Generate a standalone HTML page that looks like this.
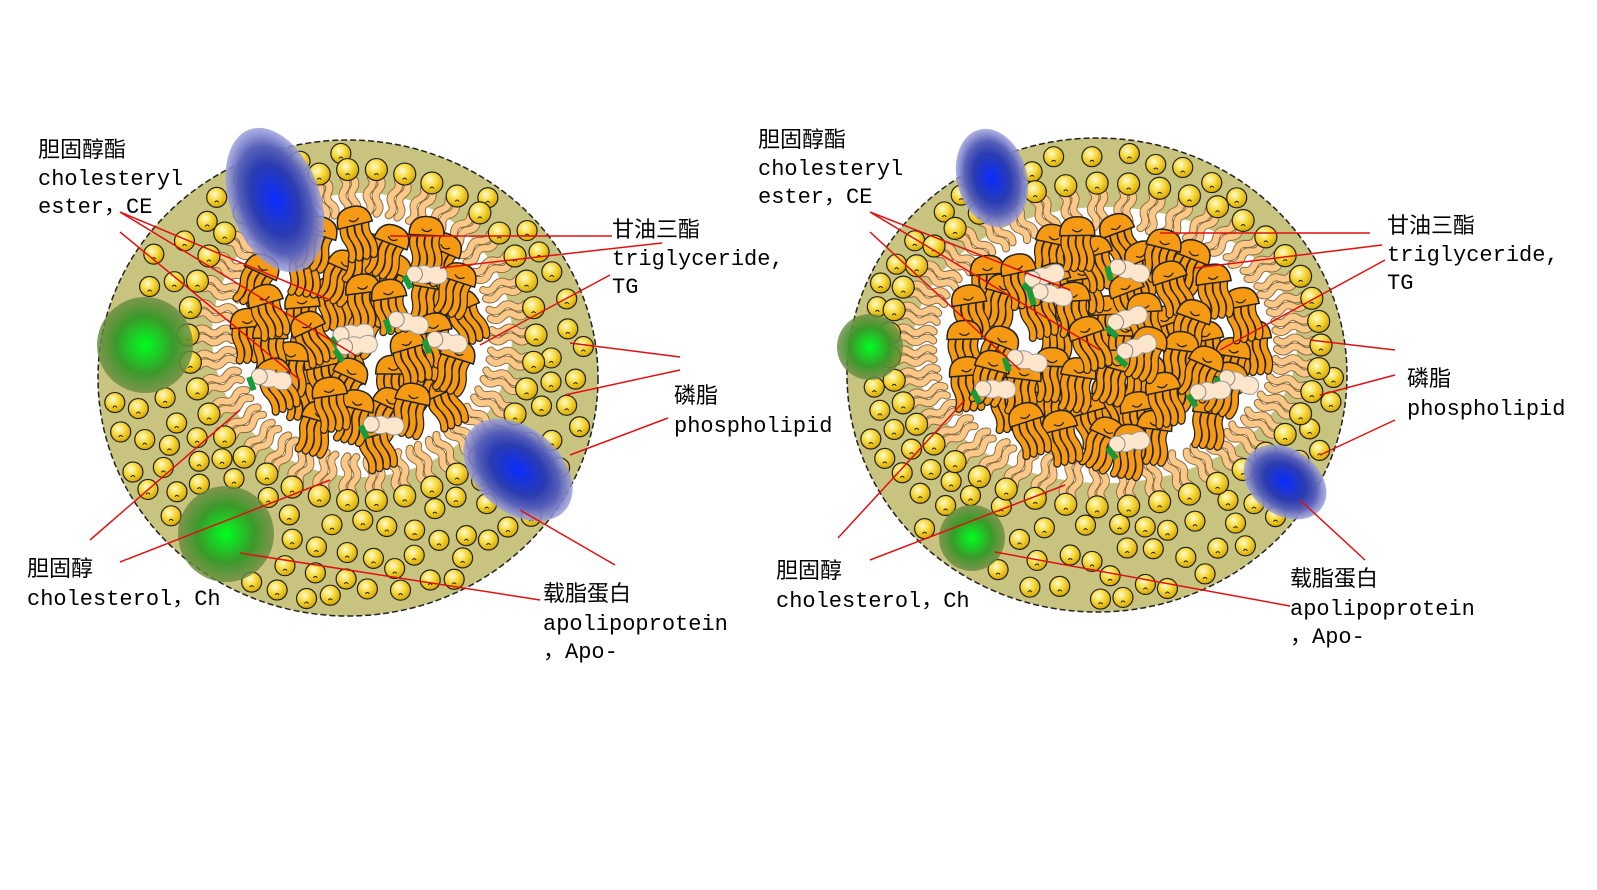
<!DOCTYPE html>
<html><head><meta charset="utf-8"><style>
body{margin:0;background:#fff;width:1597px;height:885px;overflow:hidden}
text{font-family:"Liberation Mono","Noto Sans CJK SC",monospace;font-size:22px;fill:#000}
</style></head><body>
<svg id="s" width="1597" height="885" xmlns="http://www.w3.org/2000/svg">
<defs>
<radialGradient id="yb" cx="40%" cy="35%" r="65%"><stop offset="0" stop-color="#fffbd0"/><stop offset="0.5" stop-color="#f6d93c"/><stop offset="1" stop-color="#d9a800"/></radialGradient>
<radialGradient id="gr"><stop offset="0" stop-color="#00ff20"/><stop offset="0.6" stop-color="#3a9a2a"/><stop offset="1" stop-color="#6a8a40" stop-opacity="0.8"/></radialGradient>
<radialGradient id="bl"><stop offset="0" stop-color="#0a2cff"/><stop offset="0.5" stop-color="#2b3cb0"/><stop offset="0.75" stop-color="#5860b8"/><stop offset="1" stop-color="#9a9edc" stop-opacity="0.8"/></radialGradient>
</defs>
<g id="g"></g>
<g id="labels">
<text x="38" y="157">胆固醇酯</text><text x="38" y="185">cholesteryl</text><text x="38" y="213">ester，CE</text>
<text x="612" y="237">甘油三酯</text><text x="612" y="265">triglyceride,</text><text x="612" y="293">TG</text>
<text x="674" y="403">磷脂</text><text x="674" y="432">phospholipid</text>
<text x="27" y="576">胆固醇</text><text x="27" y="605">cholesterol，Ch</text>
<text x="543" y="601">载脂蛋白</text><text x="543" y="630">apolipoprotein</text><text x="543" y="658">，Apo-</text>
<text x="758" y="147">胆固醇酯</text><text x="758" y="175">cholesteryl</text><text x="758" y="203">ester，CE</text>
<text x="1387" y="233">甘油三酯</text><text x="1387" y="261">triglyceride,</text><text x="1387" y="289">TG</text>
<text x="1407" y="386">磷脂</text><text x="1407" y="415">phospholipid</text>
<text x="776" y="578">胆固醇</text><text x="776" y="607">cholesterol，Ch</text>
<text x="1290" y="586">载脂蛋白</text><text x="1290" y="615">apolipoprotein</text><text x="1290" y="643">，Apo-</text>
</g>
</svg>
<script>
var NS="http://www.w3.org/2000/svg",G=document.getElementById("g");
function el(t,a,p){var e=document.createElementNS(NS,t);for(var k in a)e.setAttribute(k,a[k]);(p||G).appendChild(e);return e}
var seed=7;function r(){seed=(seed*16807)%2147483647;return seed/2147483647}
function ball(x,y,s){el("circle",{cx:x,cy:y,r:s,fill:"url(#yb)",stroke:"#222","stroke-width":1.2});el("path",{d:"M"+(x-2)+" "+(y+s*0.5)+"q2 -3 4 0",stroke:"#222",fill:"none","stroke-width":1})}
function jelly(x,y,a){var g=el("g",{transform:"translate("+x+","+y+") rotate("+a+") scale(1.25)"});
 for(var i=0;i<4;i++)el("path",{d:"M"+(-9+i*6)+" 0 q-3 8 0 14 q3 8 0 14",stroke:"#222","stroke-width":6.5,fill:"none","stroke-linecap":"round"},g);
 for(var i=0;i<4;i++)el("path",{d:"M"+(-9+i*6)+" 0 q-3 8 0 14 q3 8 0 14",stroke:"#f59a12","stroke-width":4.5,fill:"none","stroke-linecap":"round"},g);
 el("path",{d:"M-14 2 q0 -15 14 -15 q14 0 14 15 z",fill:"#f59a12",stroke:"#222","stroke-width":1.2},g);
 el("path",{d:"M-4 -3 q4 4 8 0",stroke:"#222",fill:"none","stroke-width":1},g);}
function ce(x,y,a){var g=el("g",{transform:"translate("+x+","+y+") rotate("+a+")"});
 el("path",{d:"M-4 -7 q8 -4 14 0 q8 -4 14 0 q6 7 0 14 q-8 4 -14 0 q-8 4 -14 0 z",fill:"#fde6cc",stroke:"#999","stroke-width":1},g);
 el("circle",{cx:-6,cy:0,r:8,fill:"#fde6cc",stroke:"#888","stroke-width":1},g);
 el("rect",{x:-18,y:-6,width:6,height:14,fill:"#1a9a3a",transform:"rotate(-30)"},g);}
function lipo(cx,cy,rx,ry,ix,iy,irx,iry,greens,blues,nb,nj){
 el("ellipse",{cx:cx,cy:cy,rx:rx,ry:ry,fill:"#c8c47f",stroke:"#222","stroke-width":1.5,"stroke-dasharray":"6,3"});
 var pts=[];
 for(var t=0;t<8000&&pts.length<nb;t++){var x=cx-rx+r()*2*rx,y=cy-ry+r()*2*ry;
  if(((x-cx)/(rx-12))**2+((y-cy)/(ry-12))**2>1)continue;
  if(((x-ix)/(irx+40))**2+((y-iy)/(iry+40))**2<1)continue;
  var ok=true;for(var p of pts)if((p[0]-x)**2+(p[1]-y)**2<500){ok=false;break}
  for(var q of greens)if((q[0]-x)**2+(q[1]-y)**2<(q[2]+6)**2)ok=false;
  if(ok)pts.push([x,y])}
 pts.forEach(p=>ball(p[0],p[1],10));
 el("ellipse",{cx:ix,cy:iy,rx:irx,ry:iry,fill:"#fff"});
 var n=Math.round((irx+iry)*0.13);
 for(var i=0;i<n;i++){var th=i/n*2*Math.PI,hx=ix+(irx+24)*Math.cos(th),hy=iy+(iry+24)*Math.sin(th);
  var ang=Math.atan2(iy-hy,ix-hx)*180/Math.PI;
  var g=el("g",{transform:"translate("+hx+","+hy+") rotate("+ang+")"});
  el("path",{d:"M8 -4 q6 -5 12 0 q6 5 12 0 q6 -5 12 0 M8 5 q6 -5 12 0 q6 5 12 0 q6 -5 12 0",stroke:"#8a6a40","stroke-width":8,fill:"none","stroke-linecap":"round"},g);
  el("path",{d:"M8 -4 q6 -5 12 0 q6 5 12 0 q6 -5 12 0 M8 5 q6 -5 12 0 q6 5 12 0 q6 -5 12 0",stroke:"#fbc888","stroke-width":6,fill:"none","stroke-linecap":"round"},g);
  ball(hx,hy,11);}
 var jp=[];
 for(var t=0;t<4000&&jp.length<nj;t++){var a=r()*2*Math.PI,d=Math.sqrt(r())*0.78;
  var x=ix+Math.cos(a)*irx*d,y=iy+Math.sin(a)*iry*d-10,ok=true;
  for(var p of jp)if((p[0]-x)**2+(p[1]-y)**2<560){ok=false;break}
  if(ok)jp.push([x,y])}
 jp.forEach(p=>jelly(p[0],p[1],(r()-0.5)*50));
 for(var i=0;i<nj/6;i++){var a=r()*2*Math.PI,d=Math.sqrt(r())*0.75;ce(ix+Math.cos(a)*irx*d,iy+Math.sin(a)*iry*d,(r()-0.5)*40)}
 greens.forEach(q=>el("circle",{cx:q[0],cy:q[1],r:q[2],fill:"url(#gr)"}));
 blues.forEach(b=>el("ellipse",{cx:b[0],cy:b[1],rx:b[2],ry:b[3],fill:"url(#bl)",transform:"rotate("+b[4]+" "+b[0]+" "+b[1]+")"}));
}
lipo(348,378,250,238,362,335,150,142,[[145,345,48],[226,534,48]],[[275,200,45,75,-20],[518,470,62,42,40]],150,40);
lipo(1097,375,250,237,1105,345,192,138,[[870,347,33],[972,538,33]],[[992,178,35,50,-15],[1285,482,45,33,35]],200,55);
function L(a){el("path",{d:a,stroke:"#e01010","stroke-width":1.5,fill:"none"})}
L("M120 212 L330 300 M120 212 L355 355 M120 232 L300 380");
L("M390 236 L612 236 M440 268 L662 243 M480 345 L610 275");
L("M570 343 L680 357 M565 395 L680 370 M570 455 L668 418");
L("M90 540 L240 410 M120 562 L330 480 M240 553 L540 600 M520 510 L615 565");
L("M870 212 L1070 290 M870 212 L1100 350 M870 232 L1020 370");
L("M1160 233 L1370 233 M1195 268 L1382 245 M1220 350 L1385 260");
L("M1310 340 L1395 350 M1320 395 L1395 375 M1320 455 L1395 420");
L("M838 538 L965 400 M870 560 L1065 485 M995 552 L1290 606 M1300 500 L1365 560");
</script>
</body></html>
